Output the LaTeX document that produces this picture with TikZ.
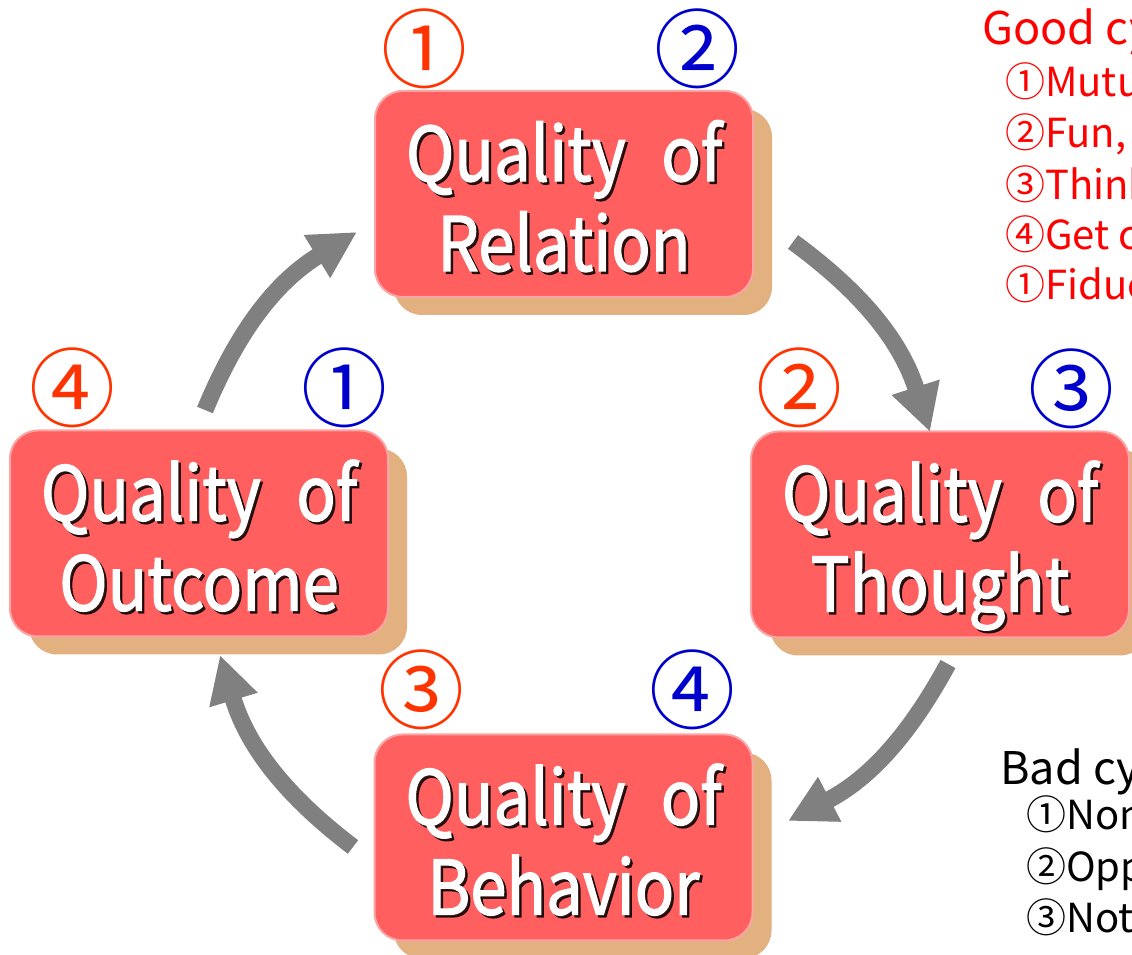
\documentclass[tikz,border=0pt]{standalone}
\usepackage{fontspec}
\setmainfont{Noto Sans CJK JP}
\newfontfamily\cardfont[FakeBold=1.8]{Noto Sans CJK JP}
\usetikzlibrary{arrows.meta,calc}

\definecolor{boxred}{RGB}{255,95,95}
\definecolor{boxedge}{RGB}{250,165,165}
\definecolor{boxshade}{RGB}{227,176,128}
\definecolor{numorange}{RGB}{255,51,0}
\definecolor{numblue}{RGB}{0,0,204}
\definecolor{arrowgray}{RGB}{128,128,128}
\definecolor{goodred}{RGB}{255,0,0}

\tikzset{
  cardshade/.style={fill=boxshade, rounded corners=28pt, minimum width=378pt,
    minimum height=206pt, inner sep=0pt},
  card/.style={draw=boxedge, line width=2pt, fill=boxred, rounded corners=28pt,
    minimum width=378pt, minimum height=206pt, inner sep=0pt},
  cardtext/.style={text=white, font=\cardfont\fontsize{75}{90}\selectfont,
    anchor=base, inner sep=0pt, xscale=0.87},
  cardglow/.style={text=black, font=\cardfont\fontsize{75}{90}\selectfont,
    anchor=base, inner sep=0pt, xscale=0.87, opacity=0.8},
  cnum/.style={font=\fontsize{86}{86}\selectfont, inner sep=0pt},
  cycarrow/.style={draw=arrowgray, line width=17pt,
    -{Triangle[length=47pt,width=47pt]}},
  listhead/.style={font=\fontsize{45}{45}\selectfont, anchor=base west, inner sep=0pt},
  listitem/.style={font=\fontsize{40}{40}\selectfont, anchor=base west, inner sep=0pt},
}

% card with drop shadow and a two-line shadowed caption
\newcommand{\qcard}[4]{%
  \node[cardshade] (#1s) at ($(#2)+(19,-18)$) {};
  \node[card] (#1) at (#2) {};
  \node[cardglow] (#1a0) at ([xshift=2.5pt,yshift=-93.5pt]#1.north) {#3};
  \node[cardglow] (#1b0) at ([xshift=2.5pt,yshift=-183.5pt]#1.north) {#4};
  \node[cardtext] (#1a) at ([yshift=-91pt]#1.north) {#3};
  \node[cardtext] (#1b) at ([yshift=-181pt]#1.north) {#4};
}
\newcommand{\qof}{Quality\hspace{24pt} of}

\begin{document}
\begin{tikzpicture}[x=1pt,y=1pt]
\useasboundingbox (0,0) rectangle (1132,955);
\clip (0,0) rectangle (1132,955);

% the four quality cards
\qcard{rel}{564,761}{\qof}{Relation}
\qcard{tho}{940,420.5}{\qof}{Thought}
\qcard{out}{199,421.5}{\qof}{Outcome}
\qcard{beh}{563.5,117.5}{\qof}{Behavior}

% step numbers: good cycle (orange) and bad cycle (blue)
\node[cnum, text=numorange] (relg) at (424,906) {①};
\node[cnum, text=numblue]   (relb) at (697,906) {②};
\node[cnum, text=numorange] (thog) at (799,567) {②};
\node[cnum, text=numblue]   (thob) at (1071,566) {③};
\node[cnum, text=numorange] (outg) at (72,567) {④};
\node[cnum, text=numblue]   (outb) at (344,567) {①};
\node[cnum, text=numorange] (behg) at (421,265) {③};
\node[cnum, text=numblue]   (behb) at (692,265) {④};

% cycle arrows
\coordinate (a1s) at (205,545);  \coordinate (a1e) at (357,723);
\coordinate (a2s) at (793,713);  \coordinate (a2e) at (930,523);
\coordinate (a3s) at (948,291);  \coordinate (a3e) at (788,134);
\coordinate (a4s) at (353,108);  \coordinate (a4e) at (220,300);
\draw[cycarrow] (a1s) to[bend left=18] (a1e);
\draw[cycarrow] (a2s) to[bend left=18] (a2e);
\draw[cycarrow] (a3s) to[bend left=17] (a3e);
\draw[cycarrow] (a4s) to[bend left=18] (a4e);

% good cycle list
\node[listhead, text=goodred] (g0) at (982,910) {Good cy};
\node[listitem, text=goodred] (g1) at (1005,858) {①Mutu};
\node[listitem, text=goodred] (g2) at (1005,807) {②Fun,};
\node[listitem, text=goodred] (g3) at (1005,755) {③Think};
\node[listitem, text=goodred] (g4) at (1005,705) {④Get c};
\node[listitem, text=goodred] (g5) at (1005,655) {①Fiduc};

% bad cycle list
\node[listhead] (b0) at (1000,170) {Bad cy};
\node[listitem] (b1) at (1026,125) {①Non};
\node[listitem] (b2) at (1026,73) {②Opp};
\node[listitem] (b3) at (1026,22) {③Not};
\end{tikzpicture}
\end{document}
